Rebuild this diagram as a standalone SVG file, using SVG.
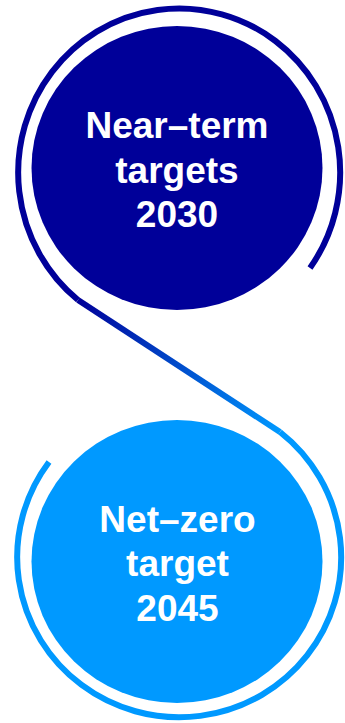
<svg xmlns="http://www.w3.org/2000/svg" width="345" height="723" viewBox="0 0 345 723">
  <defs>
    <linearGradient id="lineGrad" gradientUnits="userSpaceOnUse" x1="78" y1="300" x2="280" y2="432">
      <stop offset="0" stop-color="#000099"/>
      <stop offset="1" stop-color="#0099FF"/>
    </linearGradient>
    <style>
      .ring { fill: none; stroke-width: 6; stroke-linecap: butt; }
      .lbl { font-family: "Liberation Sans", Arial, sans-serif; font-weight: bold; font-size: 37px; fill: #FFFFFF; text-anchor: middle; }
    </style>
  </defs>
  <rect width="345" height="723" fill="#FFFFFF"/>
  <g id="near-term">
    <path class="ring" stroke="#000099" d="M 310 268 A 161 164 0 1 0 78 300"/>
    <ellipse cx="177" cy="168" rx="145.5" ry="142" fill="#000099"/>
    <text class="lbl" x="177" y="138">Near–term</text>
    <text class="lbl" x="177" y="182.5">targets</text>
    <text class="lbl" x="177" y="227">2030</text>
  </g>
  <g id="net-zero">
    <path class="ring" stroke="#0099FF" d="M 280 432 A 162 160 0 1 1 49 462"/>
    <ellipse cx="177" cy="561.5" rx="145.5" ry="141.5" fill="#0099FF"/>
    <text class="lbl" x="177.5" y="532">Net–zero</text>
    <text class="lbl" x="177.5" y="576">target</text>
    <text class="lbl" x="177.5" y="620.5">2045</text>
  </g>
  <g id="connectors">
    <path class="ring" stroke="url(#lineGrad)" d="M 78 300 L 280 432"/>
  </g>
</svg>
